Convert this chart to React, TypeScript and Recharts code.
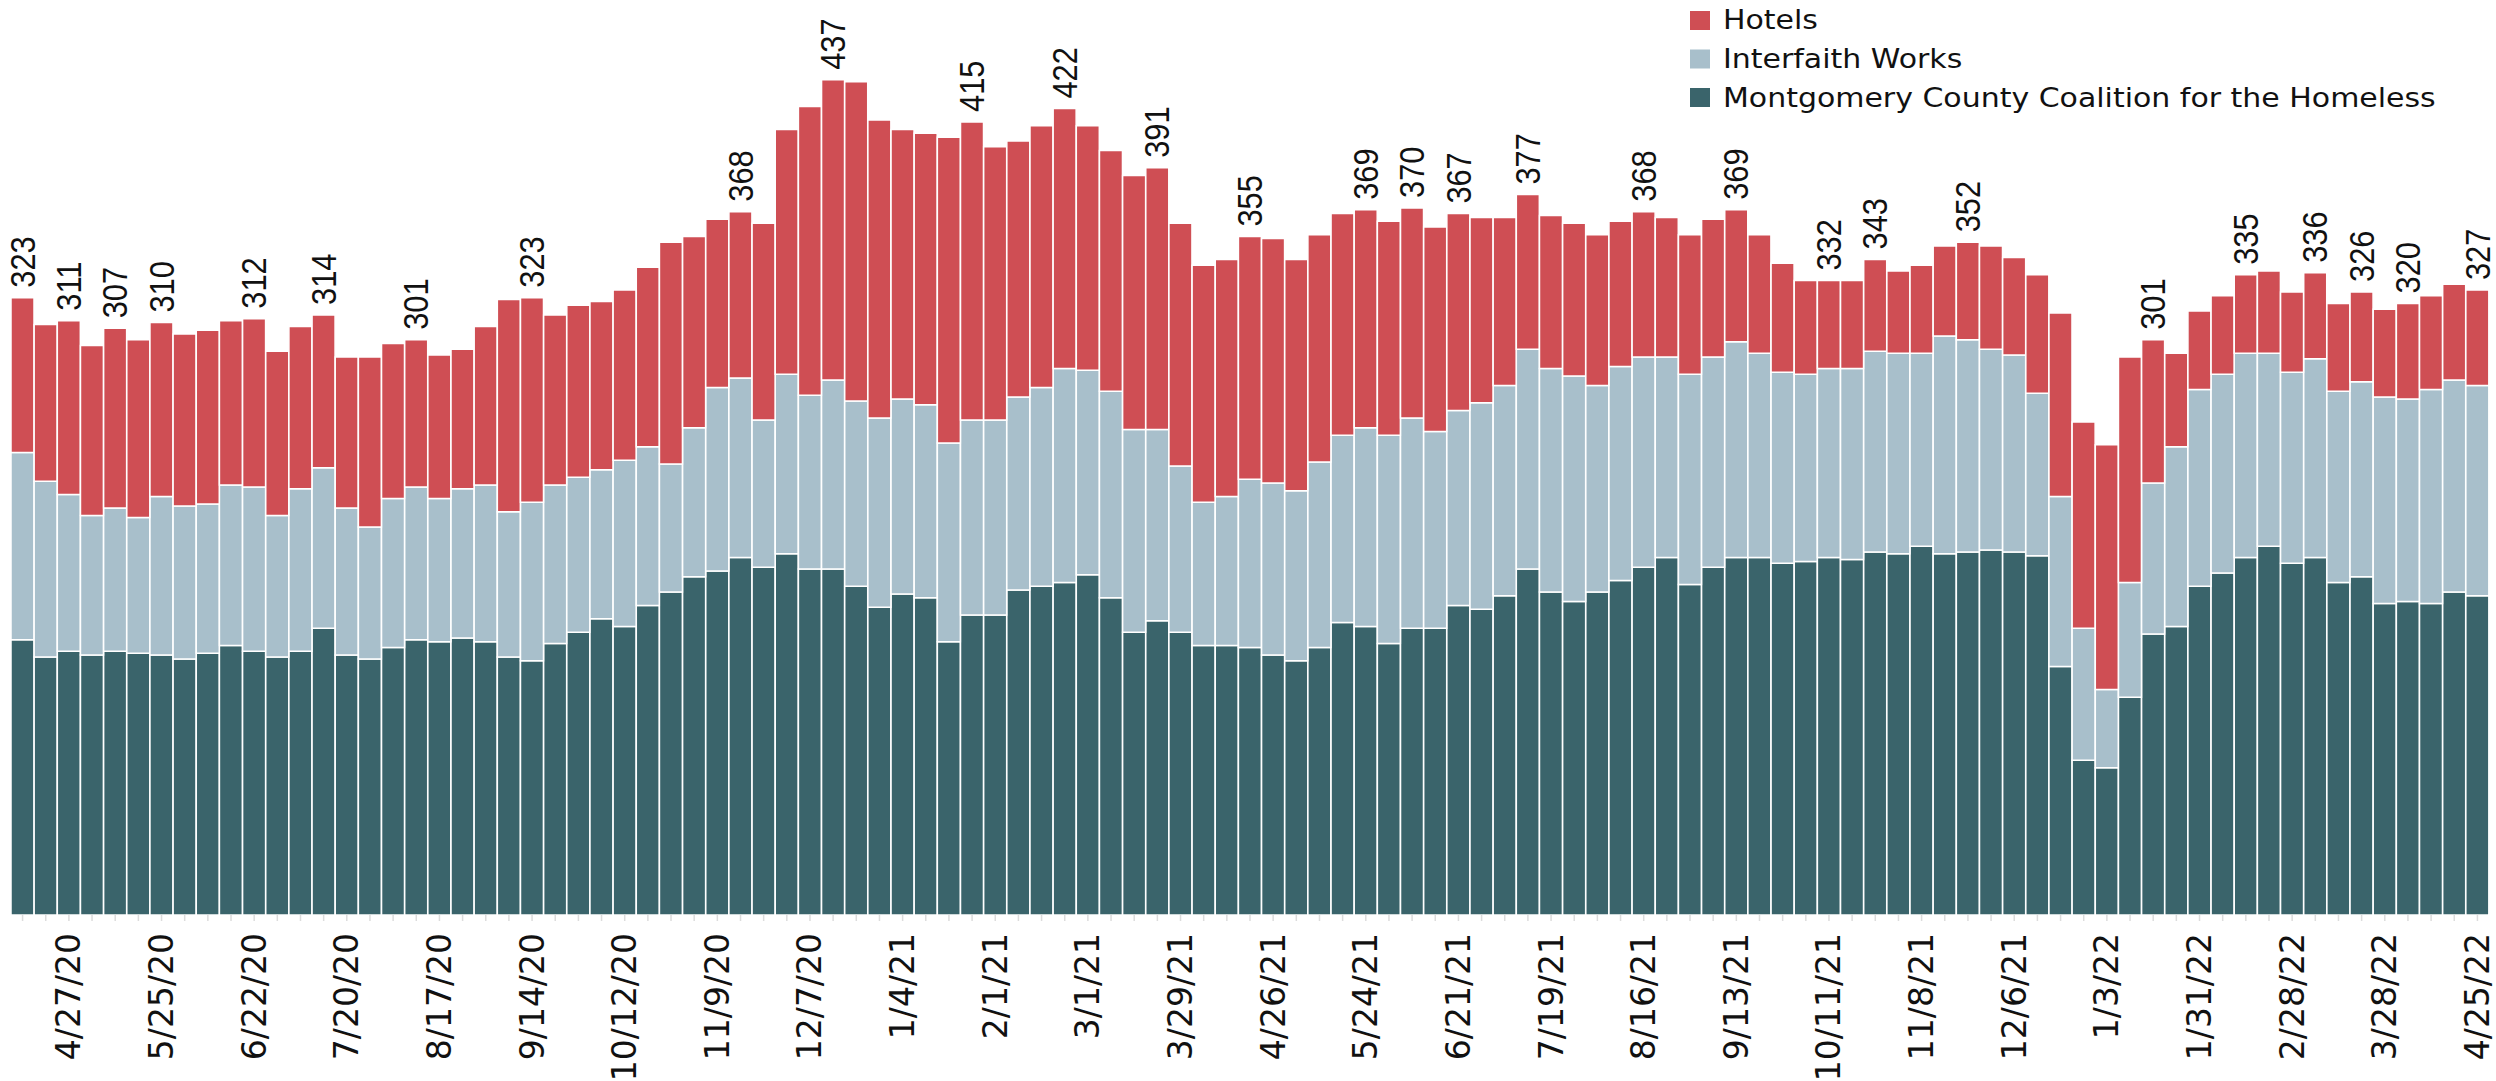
import React from "react";
import { BarChart, Bar, XAxis, YAxis, LabelList } from "recharts";

const weeks = [
  "4/13/20","4/20/20","4/27/20","5/4/20","5/11/20","5/18/20","5/25/20","6/1/20","6/8/20","6/15/20",
  "6/22/20","6/29/20","7/6/20","7/13/20","7/20/20","7/27/20","8/3/20","8/10/20","8/17/20","8/24/20",
  "8/31/20","9/7/20","9/14/20","9/21/20","9/28/20","10/5/20","10/12/20","10/19/20","10/26/20","11/2/20",
  "11/9/20","11/16/20","11/23/20","11/30/20","12/7/20","12/14/20","12/21/20","12/28/20","1/4/21","1/11/21",
  "1/18/21","1/25/21","2/1/21","2/8/21","2/15/21","2/22/21","3/1/21","3/8/21","3/15/21","3/22/21",
  "3/29/21","4/5/21","4/12/21","4/19/21","4/26/21","5/3/21","5/10/21","5/17/21","5/24/21","5/31/21",
  "6/7/21","6/14/21","6/21/21","6/28/21","7/5/21","7/12/21","7/19/21","7/26/21","8/2/21","8/9/21",
  "8/16/21","8/23/21","8/30/21","9/6/21","9/13/21","9/20/21","9/27/21","10/4/21","10/11/21","10/18/21",
  "10/25/21","11/1/21","11/8/21","11/15/21","11/22/21","11/29/21","12/6/21","12/13/21","12/20/21","12/27/21",
  "1/3/22","1/10/22","1/17/22","1/24/22","1/31/22","2/7/22","2/14/22","2/21/22","2/28/22","3/7/22",
  "3/14/22","3/21/22","3/28/22","4/4/22","4/11/22","4/18/22","4/25/22",
];

const montgomery = [
  144,135,138,136,138,137,136,134,137,141,
  138,135,138,150,136,134,140,144,143,145,
  143,135,133,142,148,155,151,162,169,177,
  180,187,182,189,181,181,172,161,168,166,
  143,157,157,170,172,174,178,166,148,154,
  148,141,141,140,136,133,140,153,151,142,
  150,150,162,160,167,181,169,164,169,175,
  182,187,173,182,187,187,184,185,187,186,
  190,189,193,189,190,191,190,188,130,81,
  77,114,147,151,172,179,187,193,184,187,
  174,177,163,164,163,169,167,
];

const interfaith = [
  98,92,82,73,75,71,83,80,78,84,
  86,74,85,84,77,69,78,80,75,78,
  82,76,83,83,81,78,87,83,67,78,
  96,94,77,94,91,99,97,99,102,101,
  104,102,102,101,104,112,107,108,106,100,
  87,75,78,88,90,89,97,98,104,109,
  110,103,102,108,110,115,117,118,108,112,
  110,105,110,110,113,107,100,98,99,100,
  105,105,101,114,111,105,103,85,89,69,
  41,60,79,94,103,104,107,101,100,104,
  100,102,108,106,112,111,110,
];

const hotels = [
  81,82,91,89,94,93,91,90,91,86,
  88,86,85,80,79,89,81,77,75,73,
  83,111,107,89,90,88,89,94,116,100,
  88,87,103,128,151,157,167,156,141,142,
  160,156,143,134,137,136,128,126,133,137,
  127,124,124,127,128,121,119,116,114,112,
  110,107,103,97,88,81,80,80,79,76,
  76,73,73,72,69,62,57,49,46,46,
  48,43,46,47,51,54,51,62,96,108,
  128,118,75,49,41,41,41,43,42,45,
  46,47,46,50,49,50,50,
];

const tickLabels = [
  "4/27/20","5/25/20","6/22/20","7/20/20","8/17/20","9/14/20","10/12/20","11/9/20","12/7/20",
  "1/4/21","2/1/21","3/1/21","3/29/21","4/26/21","5/24/21","6/21/21","7/19/21","8/16/21",
  "9/13/21","10/11/21","11/8/21","12/6/21","1/3/22","1/31/22","2/28/22","3/28/22","4/25/22",
];

const labeledWeeks = [
  "4/13/20","4/27/20","5/11/20","5/25/20","6/22/20","7/13/20","8/10/20","9/14/20","11/16/20",
  "12/14/20","1/25/21","2/22/21","3/22/21","4/19/21","5/24/21","6/7/21","6/21/21","7/12/21",
  "8/16/21","9/13/21","10/11/21","10/25/21","11/22/21","1/17/22","2/14/22","3/7/22","3/21/22",
  "4/4/22","4/25/22",
];

const seriesNames = ["Hotels", "Interfaith Works", "Montgomery County Coalition for the Homeless"];
const COLORS = { hotels: "#CF4E54", interfaith: "#A8BFCB", montgomery: "#3A646B" };

const data = weeks.map((w, i) => ({
  week: w,
  montgomery: montgomery[i],
  interfaith: interfaith[i],
  hotels: hotels[i],
}));

const DateTick = (props: any) => {
  const { x, y, payload } = props;
  if (!tickLabels.includes(payload.value)) return <g />;
  return (
    <text
      x={x}
      y={y}
      transform={`rotate(-90 ${x} ${y})`}
      textAnchor="end"
      dominantBaseline="central"
      fontFamily="'DejaVu Sans', sans-serif"
      fontSize={33}
      fill="#111"
    >
      {payload.value}
    </text>
  );
};

const TotalLabel = (props: any) => {
  const { x, y, width, index } = props;
  const wk = weeks[index];
  if (!labeledWeeks.includes(wk)) return <g />;
  const total = montgomery[index] + interfaith[index] + hotels[index];
  const cx = Number(x) + Number(width) / 2;
  const cy = Number(y) - 10;
  return (
    <text
      x={0}
      y={0}
      transform={`translate(${cx} ${cy}) rotate(-90) scale(0.88 1)`}
      textAnchor="start"
      dominantBaseline="central"
      fontFamily="'Liberation Sans', Arial, sans-serif"
      fontSize={35}
      fill="#111"
    >
      {total}
    </text>
  );
};

const legendItems = [
  { name: seriesNames[0], color: COLORS.hotels },
  { name: seriesNames[1], color: COLORS.interfaith },
  { name: seriesNames[2], color: COLORS.montgomery },
];

export default function App() {
  return (
    <div style={{ position: "absolute", left: 0, top: 0, width: 2496, height: 1081, background: "#fff" }}>
      <BarChart
        width={2496}
        height={1081}
        data={data}
        margin={{ top: 55, right: 7, bottom: 0, left: 11 }}
        barCategoryGap={0}
      >
        <XAxis
          dataKey="week"
          interval={0}
          axisLine={false}
          tickLine={{ stroke: "#dcdcdc", strokeWidth: 1.5 }}
          tickSize={6}
          tickMargin={12}
          height={166}
          tick={<DateTick />}
        />
        <YAxis hide domain={[0, 450]} allowDataOverflow />
        <Bar dataKey="montgomery" stackId="a" fill={COLORS.montgomery} stroke="#ffffff" strokeWidth={1.5} isAnimationActive={false} />
        <Bar dataKey="interfaith" stackId="a" fill={COLORS.interfaith} stroke="#ffffff" strokeWidth={1.5} isAnimationActive={false} />
        <Bar dataKey="hotels" stackId="a" fill={COLORS.hotels} stroke="#ffffff" strokeWidth={1.5} isAnimationActive={false}>
          <LabelList dataKey="hotels" content={<TotalLabel />} />
        </Bar>
      </BarChart>
      <svg
        width={2496}
        height={130}
        style={{ position: "absolute", left: 0, top: 0, pointerEvents: "none" }}
      >
        {legendItems.map((it, i) => (
          <g key={it.name}>
            <rect x={1690} y={11 + i * 38.5} width={20} height={19} fill={it.color} />
            <text
              x={1723}
              y={29 + i * 38.8}
              fontFamily="'DejaVu Sans', sans-serif"
              fontSize={27}
              fill="#111"
              transform={`translate(1723 0) scale(1.11 1) translate(-1723 0)`}
            >
              {it.name}
            </text>
          </g>
        ))}
      </svg>
    </div>
  );
}
